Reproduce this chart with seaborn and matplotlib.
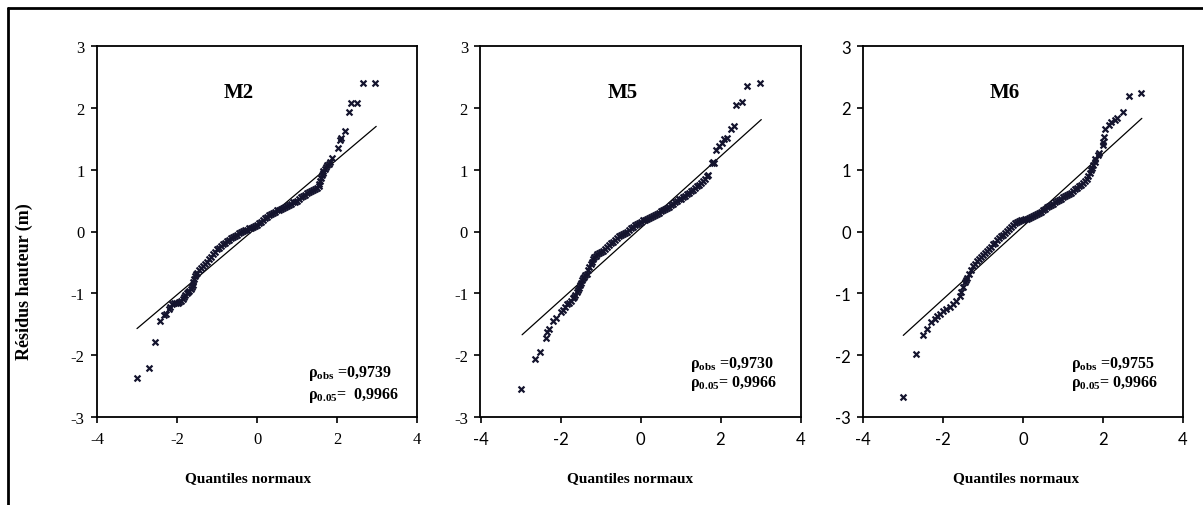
import matplotlib
matplotlib.use("Agg")
import matplotlib.pyplot as plt
from matplotlib.lines import Line2D
import seaborn as sns
import pandas as pd

# ---- M2 : normal quantiles vs sorted height residuals (m) ----
m2_q = [-3.00, -2.69, -2.54, -2.42, -2.32, -2.28, -2.20, -2.17, -2.12, -2.08, -2.03, -1.98,
        -1.94, -1.90, -1.86, -1.83, -1.79, -1.75, -1.72, -1.69, -1.66, -1.63, -1.61, -1.59,
        -1.57, -1.55, -1.52, -1.50, -1.45, -1.40, -1.35, -1.30, -1.25, -1.20, -1.15, -1.10,
        -1.05, -1.00, -0.95, -0.90, -0.85, -0.80, -0.75, -0.70, -0.65, -0.60, -0.55, -0.50,
        -0.45, -0.40, -0.35, -0.30, -0.25, -0.20, -0.15, -0.10, -0.05, 0.00, 0.05, 0.10,
        0.15, 0.20, 0.25, 0.30, 0.35, 0.40, 0.45, 0.50, 0.55, 0.60, 0.65, 0.70,
        0.75, 0.80, 0.85, 0.90, 0.95, 1.00, 1.05, 1.10, 1.15, 1.20, 1.25, 1.30,
        1.35, 1.40, 1.45, 1.50, 1.54, 1.56, 1.58, 1.60, 1.62, 1.64, 1.66, 1.69,
        1.72, 1.75, 1.79, 1.83, 1.88, 2.02, 2.07, 2.10, 2.21, 2.29, 2.36, 2.50,
        2.65, 2.96]
m2_r = [-2.37, -2.21, -1.78, -1.45, -1.35, -1.33, -1.26, -1.22, -1.18, -1.16, -1.16, -1.16,
        -1.14, -1.12, -1.09, -1.06, -1.03, -1.00, -0.98, -0.96, -0.93, -0.90, -0.86, -0.82,
        -0.77, -0.72, -0.69, -0.67, -0.63, -0.59, -0.55, -0.52, -0.49, -0.45, -0.41, -0.37,
        -0.33, -0.29, -0.26, -0.23, -0.20, -0.18, -0.16, -0.14, -0.11, -0.09, -0.07, -0.05,
        -0.03, -0.01, 0.01, 0.02, 0.03, 0.05, 0.06, 0.08, 0.09, 0.11, 0.13, 0.16,
        0.19, 0.22, 0.24, 0.26, 0.28, 0.30, 0.32, 0.34, 0.35, 0.37, 0.38, 0.40,
        0.41, 0.43, 0.45, 0.47, 0.48, 0.50, 0.52, 0.55, 0.57, 0.59, 0.62, 0.64,
        0.66, 0.67, 0.69, 0.71, 0.73, 0.77, 0.82, 0.86, 0.91, 0.95, 0.98, 1.01,
        1.04, 1.07, 1.09, 1.12, 1.19, 1.35, 1.48, 1.52, 1.62, 1.93, 2.08, 2.08,
        2.40, 2.40]
m2_line_q = [-3.00, 2.98]
m2_line_r = [-1.57, 1.70]

# ---- M5 ----
m5_q = [-3.00, -2.65, -2.51, -2.36, -2.33, -2.28, -2.18, -2.12, -2.00, -1.95, -1.90, -1.85,
        -1.80, -1.75, -1.70, -1.67, -1.63, -1.60, -1.57, -1.55, -1.52, -1.50, -1.47, -1.44,
        -1.41, -1.38, -1.35, -1.32, -1.28, -1.25, -1.22, -1.19, -1.16, -1.12, -1.08, -1.04,
        -1.00, -0.95, -0.90, -0.85, -0.80, -0.75, -0.70, -0.65, -0.60, -0.55, -0.50, -0.45,
        -0.40, -0.35, -0.30, -0.25, -0.20, -0.15, -0.10, -0.05, 0.00, 0.05, 0.10, 0.15,
        0.20, 0.25, 0.30, 0.35, 0.40, 0.45, 0.50, 0.55, 0.60, 0.65, 0.70, 0.75,
        0.80, 0.85, 0.90, 0.95, 1.00, 1.05, 1.10, 1.15, 1.20, 1.25, 1.30, 1.35,
        1.40, 1.45, 1.50, 1.55, 1.60, 1.65, 1.68, 1.79, 1.81, 1.83, 1.88, 1.96,
        2.04, 2.08, 2.17, 2.25, 2.33, 2.38, 2.54, 2.67, 2.99]
m5_r = [-2.54, -2.06, -1.95, -1.72, -1.62, -1.58, -1.44, -1.40, -1.30, -1.27, -1.22, -1.18,
        -1.15, -1.12, -1.08, -1.06, -1.02, -0.98, -0.94, -0.91, -0.86, -0.83, -0.79, -0.76,
        -0.73, -0.71, -0.68, -0.62, -0.57, -0.53, -0.49, -0.45, -0.42, -0.39, -0.36, -0.35,
        -0.33, -0.31, -0.28, -0.25, -0.22, -0.19, -0.17, -0.14, -0.11, -0.08, -0.06, -0.04,
        -0.02, 0.00, 0.03, 0.05, 0.08, 0.10, 0.12, 0.14, 0.16, 0.18, 0.19, 0.21,
        0.22, 0.23, 0.25, 0.26, 0.28, 0.30, 0.33, 0.34, 0.36, 0.38, 0.40, 0.43,
        0.45, 0.48, 0.50, 0.52, 0.53, 0.55, 0.57, 0.60, 0.62, 0.65, 0.67, 0.70,
        0.73, 0.76, 0.79, 0.82, 0.85, 0.89, 0.91, 1.10, 1.12, 1.11, 1.31, 1.38,
        1.43, 1.50, 1.52, 1.66, 1.71, 2.05, 2.10, 2.35, 2.40]
m5_line_q = [-2.96, 3.02]
m5_line_r = [-1.67, 1.81]

# ---- M6 ----
m6_q = [-3.00, -2.69, -2.51, -2.41, -2.30, -2.20, -2.16, -2.09, -2.00, -1.92, -1.84, -1.76,
        -1.67, -1.59, -1.55, -1.50, -1.46, -1.43, -1.40, -1.35, -1.30, -1.25, -1.20, -1.15,
        -1.10, -1.05, -1.00, -0.95, -0.90, -0.85, -0.80, -0.75, -0.70, -0.65, -0.60, -0.55,
        -0.50, -0.45, -0.40, -0.35, -0.30, -0.25, -0.20, -0.15, -0.10, -0.05, 0.00, 0.05,
        0.10, 0.15, 0.20, 0.25, 0.30, 0.35, 0.40, 0.45, 0.50, 0.55, 0.60, 0.65,
        0.70, 0.75, 0.80, 0.85, 0.90, 0.95, 1.00, 1.05, 1.10, 1.15, 1.20, 1.25,
        1.30, 1.35, 1.40, 1.45, 1.50, 1.55, 1.59, 1.63, 1.67, 1.70, 1.73, 1.76,
        1.79, 1.81, 1.87, 1.91, 2.01, 2.01, 2.03, 2.06, 2.14, 2.20, 2.29, 2.34,
        2.49, 2.64, 2.95]
m6_r = [-2.68, -1.98, -1.68, -1.58, -1.47, -1.41, -1.37, -1.33, -1.29, -1.25, -1.22, -1.17,
        -1.12, -1.05, -0.98, -0.90, -0.82, -0.78, -0.76, -0.69, -0.62, -0.56, -0.52, -0.48,
        -0.45, -0.41, -0.38, -0.35, -0.32, -0.28, -0.25, -0.21, -0.18, -0.14, -0.11, -0.08,
        -0.05, -0.02, 0.01, 0.04, 0.07, 0.10, 0.13, 0.15, 0.17, 0.18, 0.19, 0.20,
        0.21, 0.22, 0.24, 0.25, 0.27, 0.29, 0.30, 0.32, 0.35, 0.37, 0.39, 0.41,
        0.43, 0.45, 0.47, 0.49, 0.51, 0.53, 0.55, 0.57, 0.59, 0.61, 0.63, 0.66,
        0.68, 0.71, 0.73, 0.75, 0.78, 0.81, 0.85, 0.90, 0.95, 0.99, 1.03, 1.08,
        1.13, 1.18, 1.23, 1.27, 1.40, 1.45, 1.53, 1.66, 1.72, 1.77, 1.81, 1.83,
        1.93, 2.19, 2.24]
m6_line_q = [-3.00, 2.97]
m6_line_r = [-1.68, 1.83]

# ---- labels ----
model_names = ["M2", "M5", "M6"]
rho_obs = ["0,9739", "0,9730", "0,9755"]
rho_crit = ["  0,9966", " 0,9966", " 0,9966"]
x_ticks = [-4, -2, 0, 2, 4]
y_ticks = [-3, -2, -1, 0, 1, 2, 3]
x_title = "Quantiles normaux"
y_title = "Résidus hauteur (m)"

sns.set_style("white")
plt.rcParams.update({
    "font.family": ["Liberation Serif", "DejaVu Serif"],
    "mathtext.fontset": "custom",
    "mathtext.rm": "Liberation Serif",
    "mathtext.bf": "Liberation Serif:bold",
    "mathtext.it": "Liberation Serif:italic",
    "text.color": "black",
    "axes.labelcolor": "black",
    "xtick.color": "black",
    "ytick.color": "black",
})

W, H = 1203, 506
fig = plt.figure(figsize=(W / 100, H / 100), dpi=100, facecolor="white")

# axes boxes in pixels: left, right, top, bottom
boxes = [(97, 417, 47, 418), (480.5, 800.5, 47, 418), (863.3, 1183, 47, 418)]
# tick label families: (x, y)
tick_fonts = [("Liberation Serif", "Liberation Serif"),
              ("Lato", "Liberation Serif"),
              ("Lato", "Lato")]
# horizontal anchor of each x-axis title (axes fraction)
xlabel_pos = [0.471, 0.467, 0.478]
# annotation positions (data coords) for the rho lines
rho_pos = [(1.28, -2.33, -2.70), (1.24, -2.19, -2.50), (1.19, -2.19, -2.50)]

panels = [(m2_q, m2_r, m2_line_q, m2_line_r),
          (m5_q, m5_r, m5_line_q, m5_line_r),
          (m6_q, m6_r, m6_line_q, m6_line_r)]

marker_color = "#14142e"

for i, (q, r, lq, lr) in enumerate(panels):
    l, rgt, t, b = boxes[i]
    ax = fig.add_axes([l / W, 1 - b / H, (rgt - l) / W, (b - t) / H])
    df = pd.DataFrame({"q": q, "r": r})
    sns.scatterplot(data=df, x="q", y="r", ax=ax, marker="x", s=18,
                    color=marker_color, linewidth=1.6, legend=False, zorder=3)
    sns.lineplot(x=lq, y=lr, ax=ax, color="black", linewidth=0.9, zorder=2)

    ax.set_xlim(-4, 4)
    ax.set_ylim(-3, 3)
    ax.set_xticks(x_ticks)
    ax.set_yticks(y_ticks)
    ax.set_xticklabels([str(v) for v in x_ticks])
    ax.set_yticklabels([str(v) for v in y_ticks])
    ax.tick_params(axis="x", direction="out", length=4, width=1.2, pad=6,
                   bottom=True, labelsize=12, colors="black",
                   labelfontfamily=tick_fonts[i][0])
    ax.tick_params(axis="y", direction="out", length=4, width=1.2, pad=5,
                   left=True, labelsize=12, colors="black",
                   labelfontfamily=tick_fonts[i][1])
    for sp in ax.spines.values():
        sp.set_visible(True)
        sp.set_color("black")
        sp.set_linewidth(1.3)
    ax.grid(False)

    ax.set_xlabel(x_title, fontsize=11, fontweight="bold",
                  fontfamily="Liberation Serif", color="black")
    ax.xaxis.set_label_coords(xlabel_pos[i], -0.145)
    if i == 0:
        ax.set_ylabel(y_title, fontsize=13, fontweight="bold",
                      fontfamily="Liberation Serif", color="black")
        ax.yaxis.set_label_coords(-0.199, 0.368)
    else:
        ax.set_ylabel("")

    ax.text(-0.45, 2.26, model_names[i], ha="center", va="center",
            fontsize=15, fontweight="bold", fontfamily="Liberation Serif")
    x0, y1, y2 = rho_pos[i]
    ax.text(x0, y1, r"$\mathbf{ρ_{obs}}$ =" + rho_obs[i], ha="left",
            va="baseline", fontsize=11.5, fontweight="bold",
            fontfamily="Liberation Serif")
    ax.text(x0, y2, r"$\mathbf{ρ_{0.05}}$=" + rho_crit[i], ha="left",
            va="baseline", fontsize=11.5, fontweight="bold",
            fontfamily="Liberation Serif")

# outer frame (top and left edges)
fig.add_artist(Line2D([8 / W, 1.0], [1 - 9 / H, 1 - 9 / H],
                      transform=fig.transFigure, color="black", linewidth=2))
fig.add_artist(Line2D([8 / W, 8 / W], [0.0, 1 - 9 / H],
                      transform=fig.transFigure, color="black", linewidth=2))

fig.savefig("out.png", dpi=100, facecolor="white")
